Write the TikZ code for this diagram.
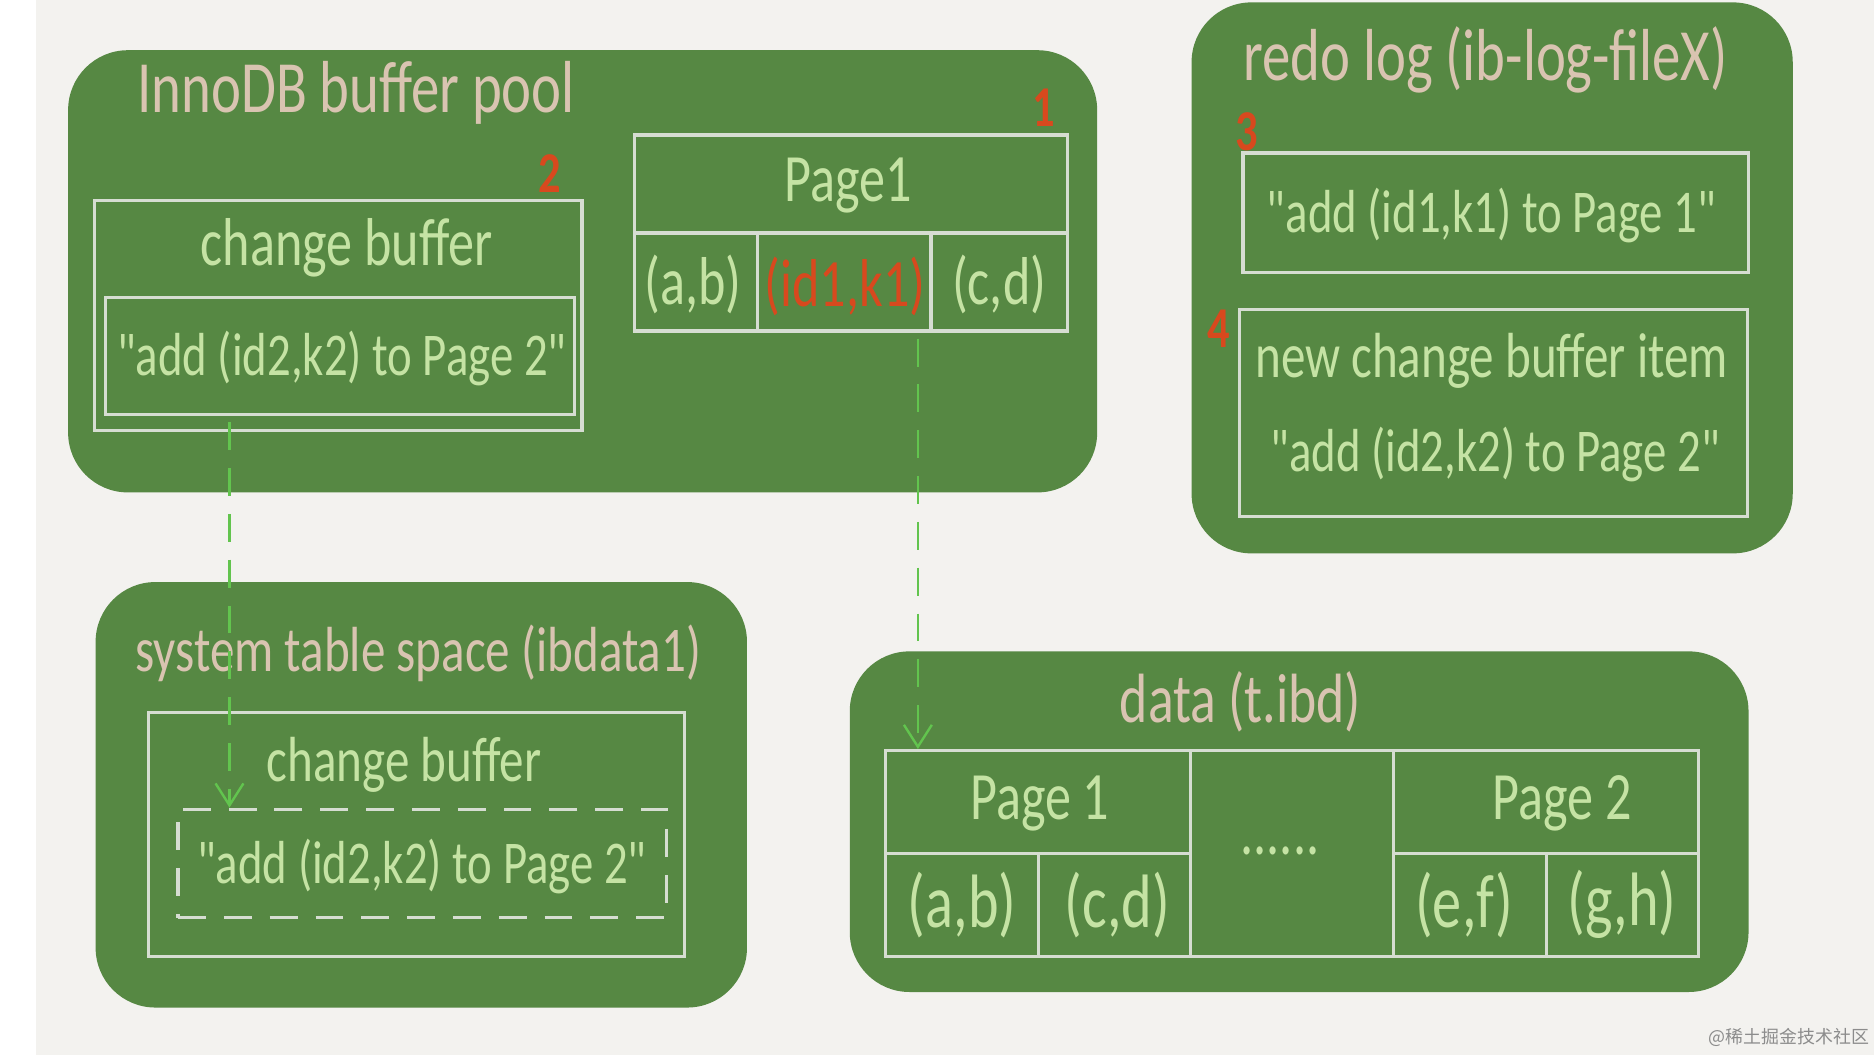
\documentclass[tikz,border=0pt]{standalone}
\usepackage{fontspec}
\newfontfamily\chalkfont{Carlito}[FakeStretch=0.77]
\newfontfamily\cjkfont{Noto Sans CJK SC}
\usetikzlibrary{arrows.meta}

\definecolor{paper}{HTML}{F3F2EF}
\definecolor{boardgreen}{HTML}{568843}
\definecolor{chalkline}{HTML}{D6DDD2}
\definecolor{chalkgreen}{HTML}{C5E3A4}
\definecolor{chalkbeige}{HTML}{D9C4B1}
\definecolor{chalkred}{HTML}{D8491E}
\definecolor{flowgreen}{HTML}{62C44E}

\tikzset{
  board/.style={fill=boardgreen, rounded corners=30pt},
  cell/.style={draw=chalkline, line width=1.6pt, inner sep=0pt},
  heading/.style={text=chalkbeige, inner sep=0pt, font=\chalkfont\fontsize{37}{40}\selectfont},
  chalk/.style={text=chalkgreen, inner sep=0pt, font=\chalkfont\fontsize{34}{40}\selectfont},
  chalkquote/.style={chalk, font=\chalkfont\fontsize{30.5}{40}\selectfont},
  chalkbig/.style={chalk, font=\chalkfont\fontsize{38}{42}\selectfont},
  stepno/.style={text=chalkred, inner sep=0pt, font=\chalkfont\bfseries\fontsize{29}{30}\selectfont},
  flow/.style={flowgreen, line width=1.2pt, dash pattern=on 14pt off 9pt,
    shorten <=3pt, -{Straight Barb[length=11pt,width=14pt,line width=1.2pt]}}
}

\begin{document}
\begin{tikzpicture}[x=0.6pt, y=-0.6pt]
  % paper
  \useasboundingbox (0,0) rectangle (1568,883);
  \fill[white] (0,0) rectangle (1568,883);
  \fill[paper] (30,0) rectangle (1568,883);

  % InnoDB buffer pool
  \fill[board] (57,42) rectangle (918,412);
  \node[heading] (pooltitle) at (298,78) {InnoDB buffer pool};
  \node[stepno] (step1) at (873,90) {1};
  \node[stepno] (step2) at (460,145) {2};

  % change buffer in memory
  \node[cell, minimum width=244.8pt, minimum height=115.2pt] (cbbox) at (283,264) {};
  \node[chalk] (cbname) at (290,207) {change buffer};
  \node[cell, minimum width=235.8pt, minimum height=58.8pt] (cbitem) at (284.5,298) {};
  \node[chalkquote] (cbtext) at (286,300) {"add (id2,k2) to Page 2"};

  % Page1 in memory
  \node[cell, minimum width=217.2pt, minimum height=49.2pt] (pghead) at (712,154) {};
  \node[chalk] (pgname) at (710,155) {Page1};
  \node[cell, minimum width=61.8pt, minimum height=49.2pt] (abcell) at (582.5,236) {};
  \node[cell, minimum width=87pt, minimum height=49.2pt] (idcell) at (706.5,236) {};
  \node[cell, minimum width=68.4pt, minimum height=49.2pt] (cdcell) at (836,236) {};
  \node[chalk] (abtext) at (580,238) {(a,b)};
  \node[chalk, text=chalkred] (idtext) at (707,240) {(id1,k1)};
  \node[chalk] (cdtext) at (836,238) {(c,d)};

  % redo log
  \fill[board] (997,2) rectangle (1500,463);
  \node[heading] (redotitle) at (1243,50) {redo log (ib-log-fileX)};
  \node[stepno] (step3) at (1043,110) {3};
  \node[stepno] (step4) at (1020,275) {4};
  \node[cell, minimum width=253.8pt, minimum height=60pt] (redoone) at (1251.5,178) {};
  \node[chalkquote] (redoonetext) at (1248,180) {"add (id1,k1) to Page 1"};
  \node[cell, minimum width=255pt, minimum height=103.8pt] (redotwo) at (1249.5,345.5) {};
  \node[chalk, font=\chalkfont\fontsize{32}{40}\selectfont] (redotwohead) at (1248,302) {new change buffer item};
  \node[chalkquote] (redotwotext) at (1251,380) {"add (id2,k2) to Page 2"};

  % system table space
  \fill[board] (80,487) rectangle (625,843);
  \node[heading, font=\chalkfont\fontsize{32}{40}\selectfont] (systitle) at (350,547) {system table space (ibdata1)};
  \node[cell, minimum width=269.4pt, minimum height=122.4pt] (sysbox) at (348.5,698) {};
  \node[chalk, font=\chalkfont\fontsize{32}{40}\selectfont] (sysname) at (338,640) {change buffer};
  \node[cell, dash pattern=on 14pt off 9pt, minimum width=245.4pt, minimum height=54.6pt] (sysitem) at (353.5,722.5) {};
  \node[chalkquote] (systext) at (353,725) {"add (id2,k2) to Page 2"};

  % data file
  \fill[board] (711,545) rectangle (1463,830);
  \node[heading, font=\chalkfont\fontsize{35}{40}\selectfont] (datatitle) at (1038,587) {data (t.ibd)};
  \node[cell, minimum width=153pt, minimum height=51.6pt] (onehead) at (868.5,671) {};
  \node[cell, minimum width=76.8pt, minimum height=51.6pt] (oneab) at (805,757) {};
  \node[cell, minimum width=76.2pt, minimum height=51.6pt] (onecd) at (932.5,757) {};
  \node[cell, minimum width=102pt, minimum height=103.2pt] (gap) at (1081,714) {};
  \node[cell, minimum width=153pt, minimum height=51.6pt] (twohead) at (1293.5,671) {};
  \node[cell, minimum width=76.8pt, minimum height=51.6pt] (twoef) at (1230,757) {};
  \node[cell, minimum width=76.2pt, minimum height=51.6pt] (twogh) at (1357.5,757) {};
  \node[chalk] (onename) at (870,672) {Page 1};
  \node[chalk] (twoname) at (1307,672) {Page 2};
  \node[chalkbig] (abdata) at (805,757) {(a,b)};
  \node[chalkbig] (cddata) at (935,757) {(c,d)};
  \node[chalkbig] (efdata) at (1225,757) {(e,f)};
  \node[chalkbig] (ghdata) at (1357,757) {(g,h)};
  \node[chalk] (dots) at (1071,712) {......};

  % flushing to disk
  \coordinate (dropone) at (192,0);
  \coordinate (droptwo) at (768,0);
  \draw[flow] (cbitem.south -| dropone) -- (sysitem.north -| dropone);
  \draw[flow] (idcell.south -| droptwo) -- (onehead.north -| droptwo);

  % watermark
  \node[text=black!45, font=\cjkfont\fontsize{9}{10}\selectfont] (watermark) at (1497,868) {@稀土掘金技术社区};
\end{tikzpicture}
\end{document}
